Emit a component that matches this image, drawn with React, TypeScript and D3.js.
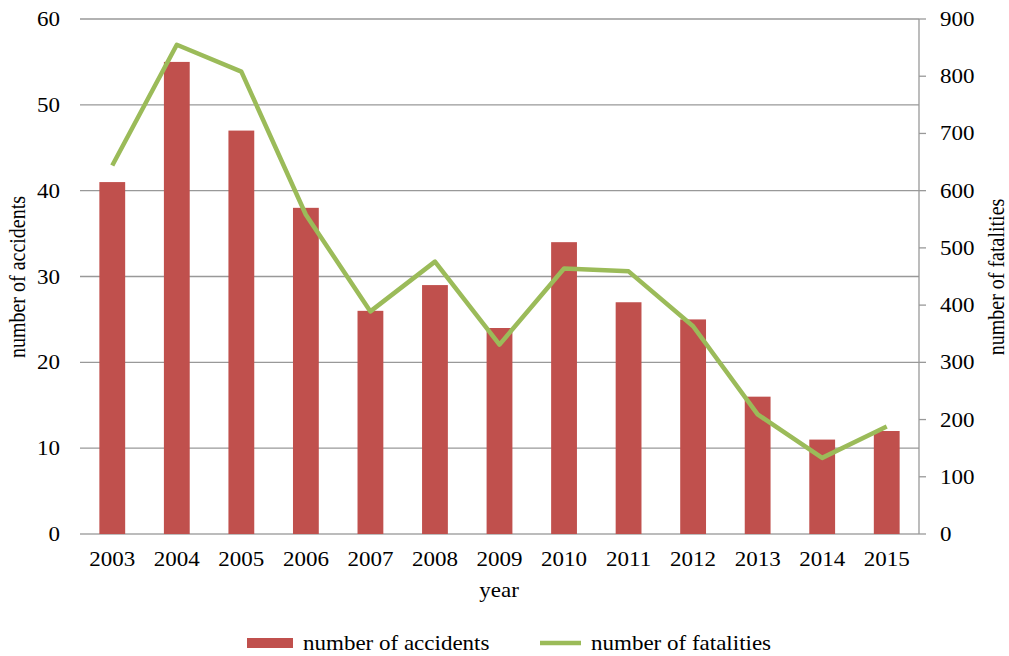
import React from "react";
import * as d3 from "d3";

const years = ["2003","2004","2005","2006","2007","2008","2009","2010","2011","2012","2013","2014","2015"];
const accidents = [41, 55, 47, 38, 26, 29, 24, 34, 27, 25, 16, 11, 12];
const fatalities = [644, 855, 808, 558, 389, 476, 331, 464, 459, 363, 209, 133, 188];
const leftTicks = [0, 10, 20, 30, 40, 50, 60];
const rightTicks = [0, 100, 200, 300, 400, 500, 600, 700, 800, 900];

export default function App() {
  const W = 1009, H = 656;
  const L = 80, R = 919, T = 19, B = 534;
  const x = d3.scaleBand<string>().domain(years).range([L, R]).paddingInner(0.6).paddingOuter(0.3);
  const yL = d3.scaleLinear().domain([0, 60]).range([B, T]);
  const yR = d3.scaleLinear().domain([0, 900]).range([B, T]);
  const line = d3.line<number>()
    .x((_, i) => (x(years[i]) as number) + x.bandwidth() / 2)
    .y((d) => yR(d));
  const font = "'Liberation Serif', 'Times New Roman', serif";
  const fs = 20;
  const stretch = 1.15;
  const T2 = (props: any) => {
    const { x: tx, y: ty, children, anchor, ...rest } = props;
    return (
      <text transform={`translate(${tx},${ty}) scale(${stretch},1)`} textAnchor={anchor} fontFamily={font} fontSize={fs} fill="#000" {...rest}>
        {children}
      </text>
    );
  };
  return (
    <svg width={W} height={H} style={{ position: "absolute", left: 0, top: 0 }}>
      <rect width={W} height={H} fill="#fff" />
      {leftTicks.map((t) => (
        <line key={"g" + t} x1={L} x2={R} y1={yL(t)} y2={yL(t)} stroke={t === 0 ? "#a6a6a6" : "#999"} strokeWidth={1.3} />
      ))}
      <line x1={R} x2={R} y1={T} y2={B} stroke="#999" strokeWidth={1.3} />
      {rightTicks.map((t) => (
        <line key={"rt" + t} x1={R} x2={R + 7} y1={yR(t)} y2={yR(t)} stroke="#999" strokeWidth={1.3} />
      ))}
      {years.map((yr, i) => (
        <rect key={yr} x={x(yr)} y={yL(accidents[i])} width={x.bandwidth()} height={B - yL(accidents[i])} fill="#C0504D" />
      ))}
      <path d={line(fatalities) || ""} fill="none" stroke="#9BBB59" strokeWidth={4.5} strokeLinejoin="round" />
      {leftTicks.map((t) => (
        <T2 key={"lt" + t} x={60} y={yL(t) + 7} anchor="end">{t}</T2>
      ))}
      {rightTicks.map((t) => (
        <T2 key={"rl" + t} x={940} y={yR(t) + 7} anchor="start">{t}</T2>
      ))}
      {years.map((yr) => (
        <T2 key={"xl" + yr} x={(x(yr) as number) + x.bandwidth() / 2} y={566} anchor="middle">{yr}</T2>
      ))}
      <T2 x={499} y={597} anchor="middle">year</T2>
      <text transform={`translate(25,277) rotate(-90) scale(1,1.15)`} textAnchor="middle" fontFamily={font} fontSize={20} fill="#000">number of accidents</text>
      <text transform={`translate(1004,277) rotate(-90) scale(1,1.15)`} textAnchor="middle" fontFamily={font} fontSize={20} fill="#000">number of fatalities</text>
      <rect x={247} y={638} width={46} height={10} fill="#C0504D" />
      <T2 x={303} y={650} anchor="start">number of accidents</T2>
      <line x1={540} x2={581} y1={643} y2={643} stroke="#9BBB59" strokeWidth={4.5} />
      <T2 x={591} y={650} anchor="start">number of fatalities</T2>
    </svg>
  );
}
